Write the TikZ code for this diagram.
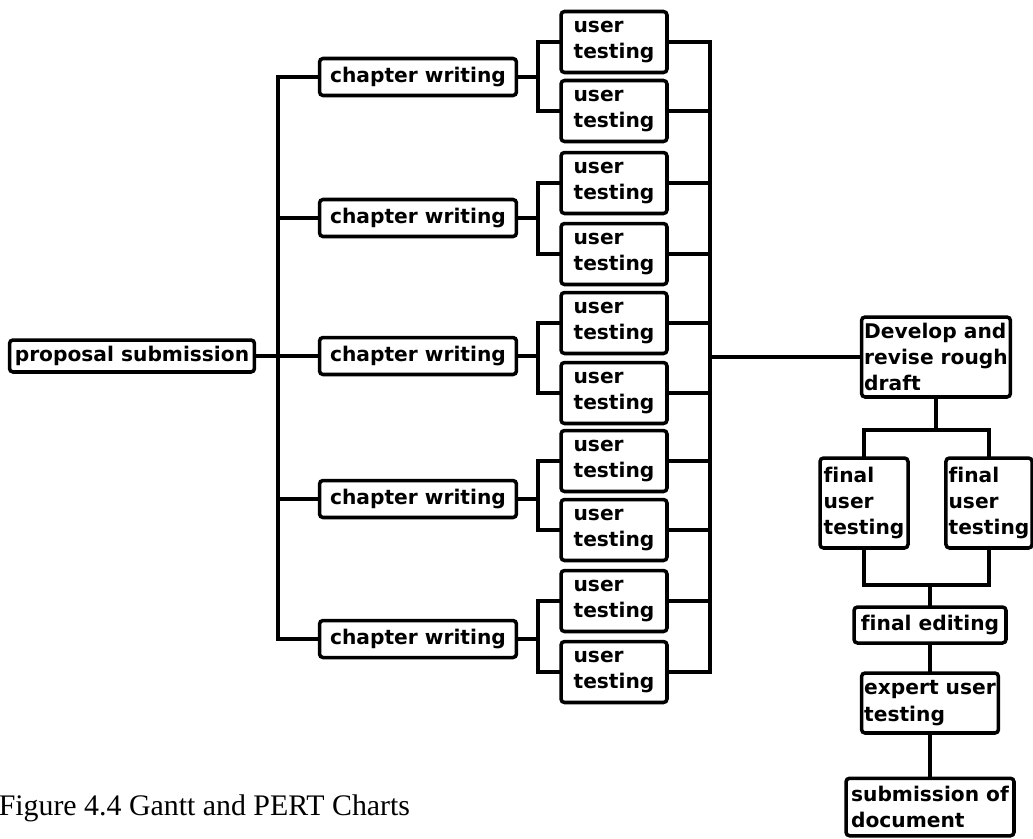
\documentclass[tikz,border=0pt]{standalone}
\usepackage{fontspec}
\setmainfont{Liberation Serif}
\setsansfont[Ligatures=NoCommon]{DejaVu Sans}
\begin{document}
\begin{tikzpicture}[x=0.02cm,y=-0.02cm,line width=2pt,line cap=rect,
    box/.style={draw,rounded corners=2pt,inner sep=1.5pt,align=left,
      font=\sffamily\bfseries\fontsize{11.5}{15}\selectfont},
    chapbox/.style={box,minimum width=3.94cm,minimum height=0.74cm},
    userbox/.style={box,minimum width=2.12cm,minimum height=1.22cm}]
    \useasboundingbox (0,0) rectangle (1033,838);
    % left part: proposal and the five chapters
    \node[box,minimum width=4.9cm,minimum height=0.64cm] (prop) at (132,356) {proposal submission};
    \coordinate (ltop) at (278,77);
    \coordinate (rtop) at (710,42);
    \foreach \i/\yc/\ya/\yb in {1/77/42/111,2/218/183/254,3/356/323/393,4/499/461/530,5/639/601/672}{
      \node[chapbox] (ch\i) at (418,\yc) {chapter writing};
      \node[userbox] (ua\i) at (614,\ya) {user\\testing};
      \node[userbox] (ub\i) at (614,\yb) {user\\testing};
      \coordinate (fk\i) at (538,\yc);
      \draw (ch\i.east) -- (fk\i);
      \draw (ua\i.west) -| (fk\i) |- (ub\i.west);
      \draw (ch\i.west) -- (ch\i.west -| ltop);
      \draw (ua\i.east) -- (ua\i.east -| rtop);
      \draw (ub\i.east) -- (ub\i.east -| rtop);
    }
    \draw (ltop) -- (ltop |- ch5.west);
    \draw (rtop) -- (rtop |- ub5.east);
    \draw (prop.east) -- (ch3.west);
    % right part
    \node[box,minimum width=2.94cm,minimum height=1.6cm] (dev) at (936,357) {Develop and\\revise rough\\draft};
    \node[box,minimum width=1.76cm,minimum height=1.8cm] (fin1) at (864,503) {final\\user\\testing};
    \node[box,minimum width=1.7cm,minimum height=1.8cm] (fin2) at (989,503) {final\\user\\testing};
    \node[box,minimum width=3.04cm,minimum height=0.72cm] (edit) at (930,625) {final editing};
    \node[box,minimum width=2.7cm,minimum height=1.2cm] (expert) at (930,703) {expert user\\testing};
    \node[box,minimum width=3.36cm,minimum height=1.15cm] (subm) at (930,807) {submission of\\document};
    \draw (dev.west) -- (dev.west -| rtop);
    \coordinate (fka) at (936,430);
    \coordinate (fkb) at (930,585);
    \draw (dev.south) -- (fka);
    \draw (fin1.north) |- (fka) -| (fin2.north);
    \draw (fin1.south) |- (fkb) -| (fin2.south);
    \draw (fkb) -- (edit.north);
    \draw (edit) -- (expert);
    \draw (expert) -- (subm);
    \node[anchor=base west,inner sep=0pt,font=\fontsize{17}{20}\selectfont] (cap) at (-3,815) {Figure 4.4 Gantt and PERT Charts};
\end{tikzpicture}
\end{document}
